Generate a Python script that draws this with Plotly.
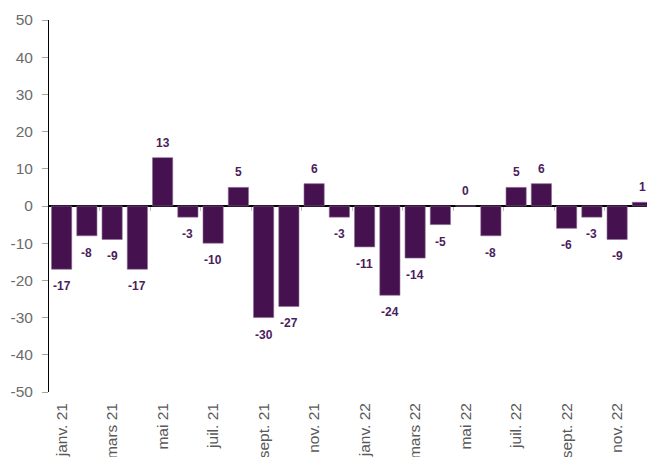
import plotly.graph_objects as go

months = ["janv. 21", "févr. 21", "mars 21", "avr. 21", "mai 21", "juin 21",
          "juil. 21", "août 21", "sept. 21", "oct. 21", "nov. 21", "déc. 21",
          "janv. 22", "févr. 22", "mars 22", "avr. 22", "mai 22", "juin 22",
          "juil. 22", "août 22", "sept. 22", "oct. 22", "nov. 22", "déc. 22"]
values = [-17, -8, -9, -17, 13, -3, -10, 5, -30, -27, 6, -3,
          -11, -24, -14, -5, 0, -8, 5, 6, -6, -3, -9, 1]
y_ticks = [50, 40, 30, 20, 10, 0, -10, -20, -30, -40, -50]

BAR = "#45124f"
LABEL = "#4b1d5c"
FONT = "Arial, Liberation Sans, sans-serif"

idx = list(range(len(months)))

fig = go.Figure()
fig.add_trace(go.Bar(
    x=idx, y=values, marker=dict(color=BAR, line=dict(color="#8a6a94", width=0.6)),
    width=0.8, hoverinfo="skip", showlegend=False,
))
# invisible trace carrying the zero-line tick axis
fig.add_trace(go.Scatter(
    x=[-0.5, len(months) - 0.5], y=[0, 0], xaxis="x2", mode="markers",
    marker=dict(opacity=0), hoverinfo="skip", showlegend=False,
))

for i, v in zip(idx, values):
    fig.add_annotation(
        x=i, y=v, text=str(v), showarrow=False,
        yshift=15 if v >= 0 else -17, yanchor="middle",
        font=dict(family=FONT, size=12, color=LABEL, weight="bold"),
    )

n = len(months)
fig.update_layout(
    width=655, height=457,
    margin=dict(l=41, r=8, t=12, b=73),
    paper_bgcolor="white", plot_bgcolor="white",
    font=dict(family=FONT),
    bargap=0.2,
    xaxis=dict(
        range=[-0.5, n - 0.5],
        tickmode="array", tickvals=idx[::2], ticktext=months[::2],
        tickangle=-90, ticks="", showline=False, showgrid=False, zeroline=False,
        tickfont=dict(family=FONT, size=15.5, color="#595959"),
        ticklabelstandoff=7, automargin=False,
    ),
    xaxis2=dict(
        overlaying="x", anchor="free", position=0.5,
        range=[-0.5, n - 0.5],
        tickmode="array", tickvals=[k + 1.5 for k in range(0, n - 1, 2)],
        ticks="outside", ticklen=4, tickcolor="#bfbfbf", tickwidth=1,
        showticklabels=False, showline=False, showgrid=False, zeroline=False,
    ),
    yaxis=dict(
        range=[-50, 50], tickmode="array", tickvals=y_ticks,
        ticktext=[str(t) for t in y_ticks],
        ticks="outside", ticklen=6, tickcolor="#a6a6a6",
        showline=True, linecolor="black", linewidth=1,
        showgrid=False, zeroline=True, zerolinecolor="black", zerolinewidth=1.5,
        tickfont=dict(family=FONT, size=15.5, color="#6b6b6b"),
        ticklabelstandoff=6, automargin=False,
    ),
)

fig.write_html("out.html")
